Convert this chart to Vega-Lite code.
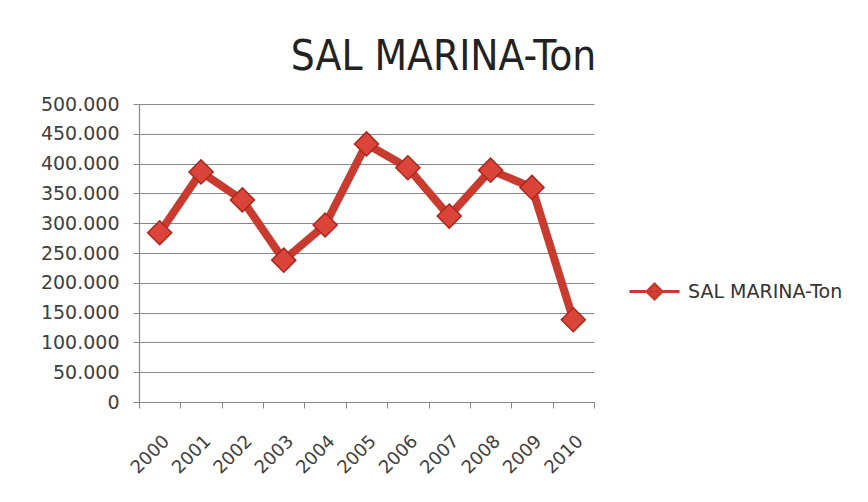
{
  "$schema": "https://vega.github.io/schema/vega-lite/v6.json",
  "width": 455,
  "height": 298,
  "autosize": "none",
  "padding": {"left": 139, "top": 104, "right": 274, "bottom": 100},
  "background": "white",
  "config": {
    "view": {"stroke": null},
    "locale": {"number": {"decimal": ",", "thousands": ".", "grouping": [3], "currency": ["", ""]}}
  },
  "title": {
    "text": "SAL MARINA-Ton",
    "anchor": "middle",
    "frame": "group",
    "dx": 77,
    "offset": 16,
    "font": "Liberation Sans Narrow, DejaVu Sans Condensed, Liberation Sans",
    "fontSize": 42,
    "fontWeight": 300,
    "color": "#222222"
  },
  "data": {
    "values": [
      {"year": 2000, "value": 284000, "series": "SAL MARINA-Ton"},
      {"year": 2001, "value": 386000, "series": "SAL MARINA-Ton"},
      {"year": 2002, "value": 339000, "series": "SAL MARINA-Ton"},
      {"year": 2003, "value": 238000, "series": "SAL MARINA-Ton"},
      {"year": 2004, "value": 297000, "series": "SAL MARINA-Ton"},
      {"year": 2005, "value": 433000, "series": "SAL MARINA-Ton"},
      {"year": 2006, "value": 393000, "series": "SAL MARINA-Ton"},
      {"year": 2007, "value": 312000, "series": "SAL MARINA-Ton"},
      {"year": 2008, "value": 389000, "series": "SAL MARINA-Ton"},
      {"year": 2009, "value": 360000, "series": "SAL MARINA-Ton"},
      {"year": 2010, "value": 138000, "series": "SAL MARINA-Ton"}
    ]
  },
  "encoding": {
    "x": {
      "field": "year",
      "type": "quantitative",
      "scale": {"domain": [1999.5, 2010.5], "nice": false, "zero": false},
      "axis": {
        "title": null,
        "values": [1999.5, 2000.5, 2001.5, 2002.5, 2003.5, 2004.5, 2005.5, 2006.5, 2007.5, 2008.5, 2009.5, 2010.5],
        "labelExpr": "datum.value > 2010 ? '' : toString(datum.value + 0.5)",
        "labelOffset": 21,
        "labelAngle": -45,
        "labelFont": "DejaVu Sans",
        "labelFontSize": 18,
        "labelColor": "#404040",
        "labelPadding": 24,
        "labelOverlap": false,
        "labelFlush": false,
        "grid": false,
        "tickSize": 6,
        "tickColor": "#888888",
        "domainColor": "#888888",
        "domainWidth": 1.2
      }
    },
    "y": {
      "field": "value",
      "type": "quantitative",
      "scale": {"domain": [0, 500000], "nice": false},
      "axis": {
        "title": null,
        "values": [0, 50000, 100000, 150000, 200000, 250000, 300000, 350000, 400000, 450000, 500000],
        "format": ",d",
        "labelFont": "DejaVu Sans",
        "labelFontSize": 19,
        "labelColor": "#404040",
        "labelPadding": 14,
        "tickSize": 6,
        "tickColor": "#888888",
        "domainColor": "#888888",
        "domainWidth": 1.2,
        "gridColor": "#888888",
        "gridWidth": 1.2,
        "gridOpacity": 1
      }
    }
  },
  "layer": [
    {
      "mark": {"type": "line", "strokeWidth": 8, "color": "#c93a2f", "strokeJoin": "round"},
      "encoding": {}
    },
    {
      "mark": {"type": "point", "shape": "diamond", "size": 580, "filled": true, "opacity": 1, "strokeWidth": 1.5},
      "encoding": {
        "fill": {
          "field": "series",
          "type": "nominal",
          "scale": {"range": ["#da4439"]},
          "legend": {
            "title": null,
            "orient": "none",
            "legendX": 504,
            "legendY": 176,
            "padding": 0,
            "symbolType": "M-2.5,0H2.5M-0.75,0L0,-0.75L0.75,0L0,0.75Z",
            "symbolSize": 400,
            "symbolStrokeWidth": 3,
            "symbolStrokeColor": "#c93a2f",
            "symbolFillColor": "#da4439",
            "labelOffset": 22,
            "labelLimit": 400,
            "labelFont": "DejaVu Sans",
            "labelFontSize": 19,
            "labelColor": "#333333"
          }
        },
        "stroke": {"value": "#a8281f"}
      }
    }
  ]
}
